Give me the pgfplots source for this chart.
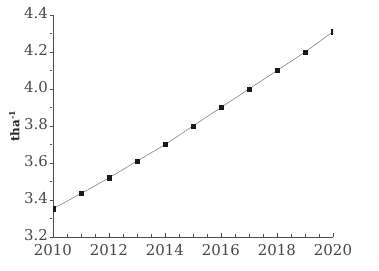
\documentclass[border=0pt]{standalone}
\usepackage{fontspec}
\setmainfont{DejaVu Serif}
\usepackage{pgfplots}
\pgfplotsset{compat=1.18}
\begin{document}
\begin{tikzpicture}[x=1bp,y=1bp]
\path[use as bounding box] (0,0) rectangle (379,271);
\begin{axis}[
  at={(53bp,34bp)}, anchor=origin,
  scale only axis, width=280bp, height=222bp,
  xmin=2010, xmax=2020, ymin=3.2, ymax=4.4,
  axis x line*=bottom, axis y line*=left,
  axis line style={color=black!70, line width=0.6pt},
  xtick={2010,2012,...,2020}, minor xtick={2010,2010.5,...,2020},
  ytick={3.2,3.4,...,4.4}, minor ytick={3.3,3.5,...,4.3},
  x tick label style={/pgf/number format/1000 sep={}, /pgf/number format/fixed, inner sep=0pt, yshift=-7bp},
  y tick label style={/pgf/number format/fixed, /pgf/number format/fixed zerofill, /pgf/number format/precision=1, inner sep=0pt, xshift=-5bp, yshift=2bp},
  /pgf/number format/assume math mode=true,
  tick label style={font=\fontsize{15}{17}\selectfont, color=black!72},
  xtick pos=bottom, ytick pos=left,
  tick align=inside,
  x tick style={color=black!70},
  y tick style={color=black!70},
  every y tick/.style={color=black!70, xshift=-3bp},
  major tick length=3.5bp, minor tick length=2.5bp,
  ylabel={\textbf{tha\textsuperscript{-1}}},
  ylabel style={font=\fontsize{12}{14}\selectfont, at={(axis description cs:-0.138,0.5)}, anchor=center, color=black!85},
  clip=true, clip marker paths=true,
]
\addplot[color=black!55, line width=0.5pt, smooth, mark=square*, mark size=2.2bp,
  mark options={fill=black!90, draw=black!90}]
  coordinates {
  (2010,3.353) (2011,3.435) (2012,3.52) (2013,3.61) (2014,3.70)
  (2015,3.80) (2016,3.90) (2017,4.00) (2018,4.10) (2019,4.20) (2020,4.31)
  };
\end{axis}
\end{tikzpicture}
\end{document}
